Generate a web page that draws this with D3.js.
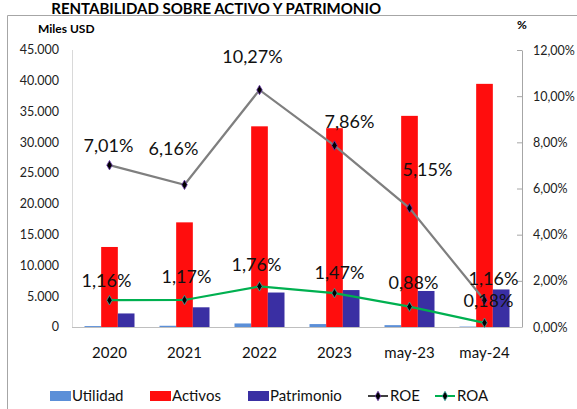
<!DOCTYPE html>
<html>
<head>
<meta charset="utf-8">
<script src="https://cdn.jsdelivr.net/npm/d3@7"></script>
<style>
  body { margin: 0; background: #fff; }
  svg { font-family: Lato, "Open Sans", sans-serif; }
</style>
</head>
<body>
<svg id="chart" width="577" height="409"></svg>
<script>
var categories = ["2020", "2021", "2022", "2023", "may-23", "may-24"];
var utilidad = [150, 200, 575, 475, 300, 70];
var activos = [13000, 17000, 32600, 32300, 34300, 39500];
var patrimonio = [2200, 3200, 5600, 6000, 5850, 6100];
var roe = [7.01, 6.16, 10.27, 7.86, 5.15, 1.16];
var roa = [1.16, 1.17, 1.76, 1.47, 0.88, 0.18];
var leftTicks = [0, 5000, 10000, 15000, 20000, 25000, 30000, 35000, 40000, 45000];
var rightTicks = [0, 2, 4, 6, 8, 10, 12];

// label nudges (px), as placed in the original chart
var roeLabelShift = [[-1, -19], [-11, -36], [-7, -33], [15, -24], [18, -38], [9, -22]];
var roaLabelShift = [[-3, -20], [2, -23], [-3, -22], [5, -20], [4, -24], [4, -22]];

var svg = d3.select("#chart"),
  margin = { top: 50, right: 55, bottom: 82, left: 72 },
  width = +svg.attr("width") - margin.left - margin.right,
  height = +svg.attr("height") - margin.top - margin.bottom;

var colors = { utilidad: "#5b8fd8", activos: "#ff0d0d", patrimonio: "#3a2fa3", roe: "#7f7f7f", roa: "#00b050" };

// outer frame and title
svg.append("path")
  .attr("d", "M7.5,420 V15.5 H590")
  .attr("fill", "none")
  .attr("stroke", "#a6a6a6");
svg.append("text")
  .attr("x", 381).attr("y", 14)
  .attr("text-anchor", "end")
  .attr("font-weight", "bold")
  .attr("font-size", 15)
  .text("RENTABILIDAD SOBRE ACTIVO Y PATRIMONIO");

var x = d3.scaleBand().domain(categories).range([0, width]);
var xs = d3.scaleBand().domain(["utilidad", "activos", "patrimonio"])
  .range([12.5, x.bandwidth() - 12.5]);
var y = d3.scaleLinear().domain([0, 45000]).range([height, 0]);
var y2 = d3.scaleLinear().domain([0, 12]).range([height, 0]);

var g = svg.append("g")
  .attr("transform", "translate(" + margin.left + "," + margin.top + ")");

// left axis
var fmtK = d3.formatLocale({ decimal: ",", thousands: ".", grouping: [3], currency: ["", ""] }).format(",.0f");
g.append("line").attr("x1", 0.5).attr("x2", 0.5).attr("y1", 0).attr("y2", height)
  .attr("stroke", "#d9d9d9");
g.selectAll(".ly").data(leftTicks).enter().append("text")
  .attr("x", -13).attr("y", function (d) { return y(d); })
  .attr("dy", "0.35em").attr("text-anchor", "end")
  .attr("font-size", 12.5).attr("fill", "#222")
  .text(function (d) { return fmtK(d); });
svg.append("text").attr("x", 38).attr("y", 33)
  .attr("font-size", 12).attr("font-weight", "bold").text("Miles USD");

// right axis
var gr = g.append("g").attr("transform", "translate(" + width + ",0)")
  .call(d3.axisRight(y2).tickValues(rightTicks).tickSize(0).tickPadding(11)
    .tickFormat(function (d) { return d.toFixed(2).replace(".", ",") + "%"; }));
gr.select(".domain").attr("stroke", "#a6a6a6");
gr.selectAll(".tick text").attr("font-size", 12.5).attr("fill", "#222").attr("font-family", "Lato, sans-serif");
gr.selectAll(".tick").append("line").attr("x1", -5).attr("x2", 0).attr("stroke", "#a6a6a6");
svg.append("text").attr("x", 517).attr("y", 29)
  .attr("font-size", 12).attr("font-weight", "bold").text("%");

// bottom axis
g.append("line").attr("x1", 0).attr("x2", width).attr("y1", height + 0.5).attr("y2", height + 0.5)
  .attr("stroke", "#bfbfbf");
g.selectAll(".cat").data(categories).enter().append("text")
  .attr("x", function (d) { return x(d) + x.bandwidth() / 2; })
  .attr("y", height + 26)
  .attr("dy", "0.35em").attr("text-anchor", "middle")
  .attr("font-size", 15).attr("fill", "#111").text(function (d) { return d; });

// bars
var series = [
  { key: "utilidad", values: utilidad },
  { key: "activos", values: activos },
  { key: "patrimonio", values: patrimonio }
];
series.forEach(function (s) {
  g.selectAll(".bar-" + s.key).data(s.values).enter().append("rect")
    .attr("class", "bar-" + s.key)
    .attr("x", function (d, i) { return x(categories[i]) + xs(s.key); })
    .attr("y", function (d) { return y(d); })
    .attr("width", xs.bandwidth())
    .attr("height", function (d) { return height - y(d); })
    .attr("fill", colors[s.key]);
});

// lines
function cx(i) { return x(categories[i]) + x.bandwidth() / 2; }
var line = d3.line().x(function (d, i) { return cx(i); }).y(function (d) { return y2(d); });
var diamond = d3.symbol().type(d3.symbolDiamond).size(26);

function drawLine(vals, color, ring, shifts) {
  g.append("path").datum(vals)
    .attr("d", line).attr("fill", "none")
    .attr("stroke", color).attr("stroke-width", 2.2);
  g.selectAll(null).data(vals).enter().append("path")
    .attr("d", diamond)
    .attr("transform", function (d, i) { return "translate(" + cx(i) + "," + y2(d) + ")"; })
    .attr("fill", "#000").attr("stroke", ring).attr("stroke-width", 0.8);
  g.selectAll(null).data(vals).enter().append("text")
    .attr("x", function (d, i) { return cx(i) + shifts[i][0]; })
    .attr("y", function (d, i) { return y2(d) + shifts[i][1]; })
    .attr("dy", "0.35em").attr("text-anchor", "middle")
    .attr("font-size", 18).attr("fill", "#111")
    .text(function (d) { return d.toFixed(2).replace(".", ",") + "%"; });
}
drawLine(roe, colors.roe, "#6a3aa8", roeLabelShift);
drawLine(roa, colors.roa, "#3aa8a0", roaLabelShift);

// legend
var legend = svg.append("g").attr("transform", "translate(0,396)");
var legendItems = [
  { name: "Utilidad", key: "utilidad", x: 50, type: "rect" },
  { name: "Activos", key: "activos", x: 150, type: "rect" },
  { name: "Patrimonio", key: "patrimonio", x: 248, type: "rect" },
  { name: "ROE", key: "roe", x: 368, type: "line" },
  { name: "ROA", key: "roa", x: 435, type: "line" }
];
legendItems.forEach(function (it) {
  if (it.type === "rect") {
    legend.append("rect").attr("x", it.x).attr("y", -5).attr("width", 21).attr("height", 10)
      .attr("fill", colors[it.key]);
  } else {
    legend.append("line").attr("x1", it.x).attr("x2", it.x + 20).attr("y1", 0).attr("y2", 0)
      .attr("stroke", it.key === "roe" ? "#404040" : colors.roa).attr("stroke-width", 2);
    legend.append("path").attr("d", diamond).attr("transform", "translate(" + (it.x + 10) + ",0)")
      .attr("fill", "#000").attr("stroke", it.key === "roe" ? "#6a3aa8" : "#3aa8a0").attr("stroke-width", 0.8);
  }
  legend.append("text").attr("x", it.x + 22).attr("y", 0).attr("dy", "0.35em")
    .attr("font-size", 15).attr("fill", "#111").text(it.name);
});
</script>
</body>
</html>
